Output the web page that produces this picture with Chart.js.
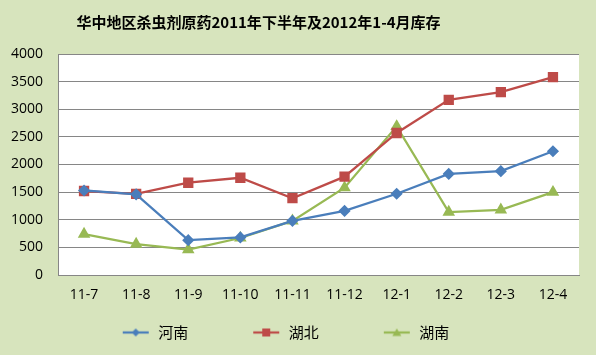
<!DOCTYPE html>
<html>
<head>
<meta charset="utf-8">
<script src="https://cdn.jsdelivr.net/npm/chart.js@4.4.1/dist/chart.umd.min.js"></script>
<style>
  html, body { margin: 0; padding: 0; background: #d7e4bd; }
  #wrap { width: 596px; height: 355px; }
</style>
</head>
<body>
<div id="wrap"><canvas id="stockChart"></canvas></div>
<script>
const months = ['11-7', '11-8', '11-9', '11-10', '11-11', '11-12', '12-1', '12-2', '12-3', '12-4'];
const henan = [1530, 1460, 630, 680, 980, 1160, 1470, 1830, 1880, 2240];
const hubei = [1520, 1470, 1670, 1760, 1390, 1780, 2570, 3170, 3310, 3580];
const hunan = [740, 560, 460, 670, 980, 1580, 2690, 1140, 1180, 1500];
const seriesNames = ['河南', '湖北', '湖南'];

const BLUE = '#4a7ebb';
const RED = '#be4b48';
const GREEN = '#98b954';

// legend swatch: short line with the marker in the middle (Excel style)
function legendSwatch(color, shape) {
    const c = document.createElement('canvas');
    c.width = 83; c.height = 14;
    const g = c.getContext('2d');
    const x0 = 55, x1 = 81, y = 7, mx = 68;
    g.strokeStyle = color;
    g.lineWidth = 2.25;
    g.beginPath(); g.moveTo(x0, y); g.lineTo(x1, y); g.stroke();
    g.fillStyle = color;
    g.beginPath();
    if (shape === 'diamond') {
        g.moveTo(mx, y - 4); g.lineTo(mx + 4, y); g.lineTo(mx, y + 4); g.lineTo(mx - 4, y);
    } else if (shape === 'square') {
        g.rect(mx - 4, y - 4, 8, 8);
    } else {
        g.moveTo(mx, y - 4); g.lineTo(mx + 4.5, y + 3.5); g.lineTo(mx - 4.5, y + 3.5);
    }
    g.closePath();
    g.fill();
    return c;
}

const swatches = [
    legendSwatch(BLUE, 'diamond'),
    legendSwatch(RED, 'square'),
    legendSwatch(GREEN, 'triangle')
];

// white plot area on the green chart background
const plotBg = {
    id: 'plotBg',
    beforeDraw(chart) {
        const { ctx, chartArea: a } = chart;
        ctx.save();
        ctx.fillStyle = '#d7e4bd';
        ctx.fillRect(0, 0, chart.width, chart.height);
        ctx.fillStyle = '#ffffff';
        ctx.fillRect(a.left, a.top, a.right - a.left, a.bottom - a.top);
        ctx.restore();
    }
};

const tickFont = { family: '"Open Sans", "DejaVu Sans", sans-serif', size: 14 };

new Chart(document.getElementById('stockChart'), {
    type: 'line',
    data: {
        labels: months,
        datasets: [
            { label: seriesNames[0], data: henan, borderColor: BLUE, backgroundColor: BLUE,
              pointStyle: 'rectRot', pointRadius: 4.5, borderWidth: 2.25 },
            { label: seriesNames[1], data: hubei, borderColor: RED, backgroundColor: RED,
              pointStyle: 'rect', pointRadius: 5.7, borderWidth: 2.25 },
            { label: seriesNames[2], data: hunan, borderColor: GREEN, backgroundColor: GREEN,
              pointStyle: 'triangle', pointRadius: 5, borderWidth: 2.25 }
        ]
    },
    options: {
        responsive: true,
        maintainAspectRatio: false,
        animation: false,
        layout: { padding: { top: 0, left: -62, right: 17, bottom: 5 } },
        plugins: {
            title: {
                display: true,
                text: '华中地区杀虫剂原药2011年下半年及2012年1-4月库存',
                color: '#000',
                font: { family: '"Noto Sans CJK SC", sans-serif', size: 15, weight: 'bold' },
                padding: { top: 13, bottom: 23 }
            },
            legend: {
                position: 'bottom',
                labels: {
                    color: '#000',
                    font: { family: '"Noto Sans CJK SC", sans-serif', size: 15 },
                    usePointStyle: true,
                    pointStyleWidth: 83,
                    padding: 10,
                    generateLabels: chart => chart.data.datasets.map((ds, i) => ({
                        text: ds.label,
                        pointStyle: swatches[i],
                        fillStyle: ds.borderColor,
                        strokeStyle: ds.borderColor,
                        lineWidth: 0,
                        hidden: false,
                        datasetIndex: i,
                        fontColor: '#000'
                    }))
                }
            },
            tooltip: { enabled: false }
        },
        scales: {
            x: {
                offset: true,
                grid: { display: false, drawTicks: false },
                border: { color: '#868686', width: 1 },
                ticks: { color: '#000', font: tickFont, padding: 12, maxRotation: 0, autoSkip: false },
                afterFit: s => { s.height = 40; }
            },
            y: {
                min: 0,
                max: 4000,
                ticks: { stepSize: 500, color: '#000', font: tickFont, padding: 15,
                         callback: v => String(v) },
                grid: { color: '#868686', lineWidth: 1, drawTicks: false },
                border: { color: '#868686', width: 1 },
                afterFit: s => { s.width = 120; }
            }
        }
    },
    plugins: [plotBg]
});
</script>
</body>
</html>
